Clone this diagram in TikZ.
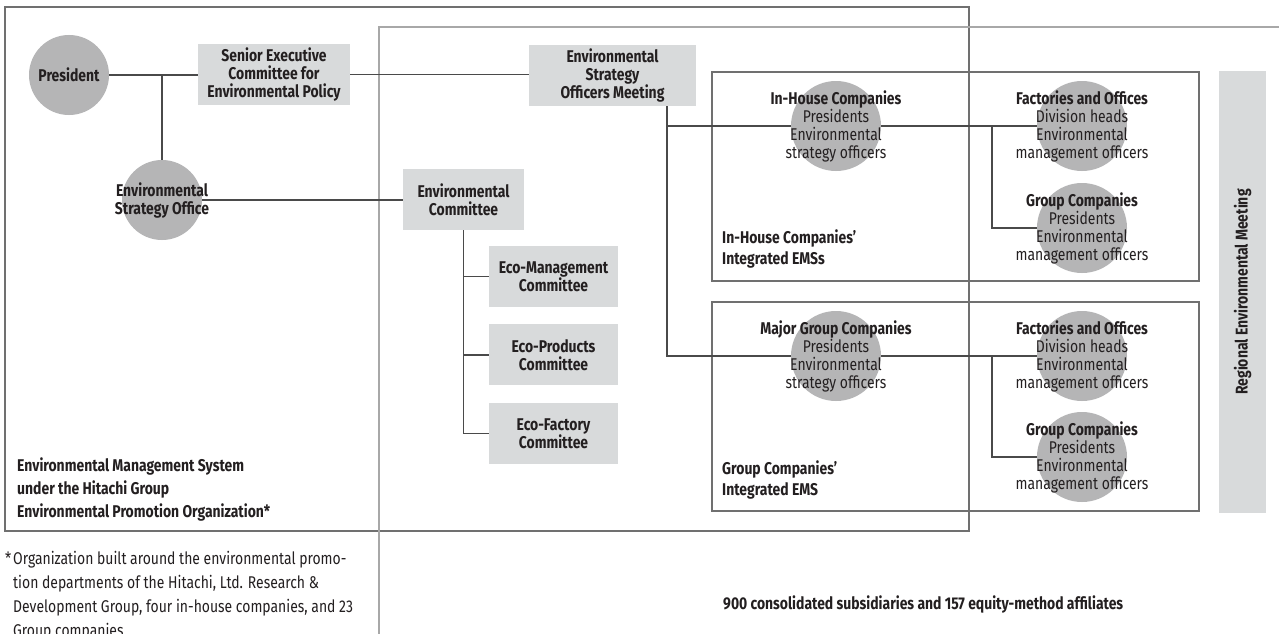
\documentclass[tikz,border=0pt]{standalone}
\usepackage{fontspec}
\setmainfont[FakeStretch=0.82]{Fira Sans}
\usetikzlibrary{positioning}
\definecolor{ink}{HTML}{231F20}
\definecolor{boxgray}{HTML}{D8DADB}
\definecolor{discgray}{HTML}{B5B5B6}
\definecolor{framedark}{HTML}{707070}
\definecolor{framelight}{HTML}{A8A8A8}
\definecolor{wire}{HTML}{4A4A4A}
\newcommand{\txt}{\fontsize{17}{18}\selectfont}

\begin{document}
\begin{tikzpicture}[x=1pt,y=-1pt,node distance=17pt,
  every node/.style={font=\txt,align=center,text=ink,inner sep=0pt},
  panel/.style={fill=boxgray,font=\txt\bfseries,minimum height=61pt},
  disc/.style={circle,fill=discgray,minimum size=#1},
  wires/.style={draw=wire,line width=1.2pt},
  frame/.style={draw=framedark,line width=2pt}]
\useasboundingbox[fill=white] (0,0) rectangle (1279,634);
% frames
\draw[frame] (5,7) rectangle (969,531);
\draw[draw=framelight,line width=2pt] (379,634) -- (379,27) -- (1279,27);
\draw[frame] (712,72) rectangle (1199,281);
\draw[frame] (712,302) rectangle (1199,511);
% head office
\node[disc=80pt] (pres) at (69,75) {};
\node[disc=80pt] (eso) at (162,200) {};
\node[panel,minimum width=152pt] (seco) at (274,74.5) {Senior Executive\\Committee for\\Environmental Policy};
\node[panel,minimum width=167pt] (esom) at (612.5,75.5) {Environmental\\Strategy\\Officers Meeting};
\node[panel,minimum width=121pt] (ec) at (463.5,199.5) {Environmental\\Committee};
\node[panel,minimum width=129pt] (emc) at (553.5,276.5) {Eco-Management\\Committee};
\node[panel,minimum width=129pt,below=of emc] (epc) {Eco-Products\\Committee};
\node[panel,minimum width=129pt,below=of epc] (efc) {Eco-Factory\\Committee};
% companies
\node[disc=90pt] (ihc) at (836,126) {};
\node[disc=90pt] (fo) at (1082,126) {};
\node[disc=90pt] (gc) at (1082,228) {};
\node[disc=90pt] (mgc) at (836,356) {};
\node[disc=90pt] (fo2) at (1082,356) {};
\node[disc=90pt] (gc2) at (1082,457) {};
\node[fill=boxgray,minimum width=47pt,minimum height=442pt] (rem) at (1242.5,292) {};
% connectors
\coordinate (spine) at (667,0);
\coordinate (fork) at (992,0);
\draw[wires] (pres.east) -- (seco.west |- pres.east);
\draw[wires] (seco.east) -- (esom.west |- seco.east);
\draw[wires] (eso.north) -- (eso.north |- pres.east);
\draw[wires] (eso.east) -- (ec.west |- eso.east);
\draw[wires] (ec.south) |- (efc.west);
\draw[wires] (ec.south |- emc.west) -- (emc.west);
\draw[wires] (ec.south |- epc.west) -- (epc.west);
\draw[wires] (esom.south -| spine) |- (mgc.west);
\draw[wires] (spine |- ihc.west) -- (ihc.west);
\draw[wires] (ihc.east) -- (fo.west);
\draw[wires] (fork |- fo.west) |- (gc.west);
\draw[wires] (mgc.east) -- (fo2.west);
\draw[wires] (fork |- fo2.west) |- (gc2.west);
% texts over the discs
\node[font=\txt\bfseries] at (pres) {President};
\node[font=\txt\bfseries] at (eso) {Environmental\\Strategy Office};
\node at (ihc) {\textbf{In-House Companies}\\Presidents\\Environmental\\strategy officers};
\node at (fo) {\textbf{Factories and Offices}\\Division heads\\Environmental\\management officers};
\node at (gc) {\textbf{Group Companies}\\Presidents\\Environmental\\management officers};
\node at (mgc) {\textbf{Major Group Companies}\\Presidents\\Environmental\\strategy officers};
\node at (fo2) {\textbf{Factories and Offices}\\Division heads\\Environmental\\management officers};
\node at (gc2) {\textbf{Group Companies}\\Presidents\\Environmental\\management officers};
\node[rotate=90,font=\txt\bfseries] at (rem) {Regional Environmental Meeting};
% captions
\node[anchor=west,align=left,font=\fontsize{17}{21}\selectfont\bfseries] (ihems) at (722,249) {In-House Companies'\\Integrated EMSs};
\node[anchor=west,align=left,font=\fontsize{17}{21}\selectfont\bfseries] (gcems) at (722,480) {Group Companies'\\Integrated EMS};
\node[anchor=west,align=left,font=\fontsize{17}{23}\selectfont\bfseries] (hq) at (17,489) {Environmental Management System\\under the Hitachi Group\\Environmental Promotion Organization*};
\node[anchor=north west,align=left,font=\fontsize{17}{24}\selectfont] (note) at (5,551) {\makebox[8pt][l]{*}Organization built around the environmental promo-\\\hspace*{8pt}tion departments of the Hitachi, Ltd. Research \&\\\hspace*{8pt}Development Group, four in-house companies, and 23\\\hspace*{8pt}Group companies};
\node[anchor=west,font=\txt\bfseries] (count) at (723,604) {900 consolidated subsidiaries and 157 equity-method affiliates};
\end{tikzpicture}
\end{document}
